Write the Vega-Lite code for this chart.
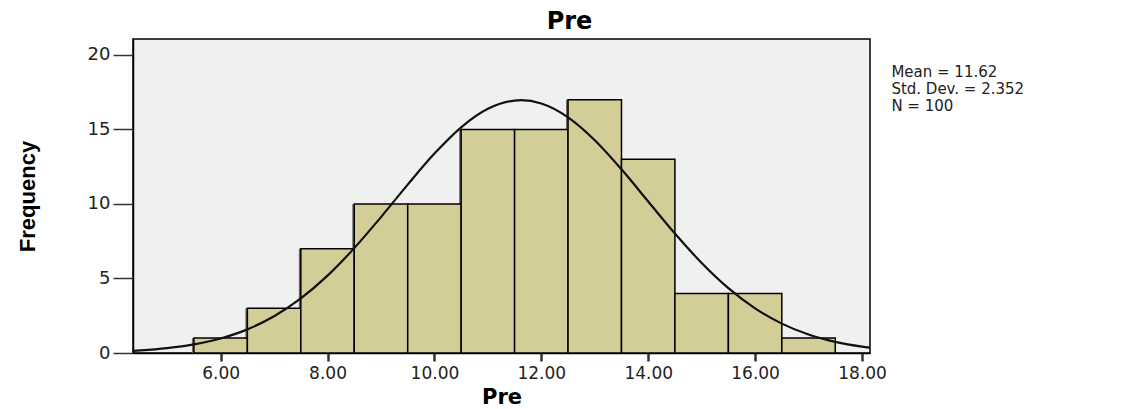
{
  "$schema": "https://vega.github.io/schema/vega-lite/v6.json",
  "autosize": {"type": "none"},
  "width": 737,
  "height": 314,
  "padding": {"left": 133, "top": 39, "right": 260, "bottom": 56},
  "background": "white",
  "config": {
    "view": {"fill": "#f0f0f0", "stroke": "#000000", "strokeWidth": 1.5},
    "font": "DejaVu Sans"
  },
  "title": {
    "text": "Pre",
    "font": "DejaVu Sans",
    "fontSize": 24,
    "fontWeight": "bold",
    "color": "#000000",
    "anchor": "middle",
    "frame": "group",
    "dx": 68,
    "dy": 24,
    "baseline": "alphabetic",
    "offset": 10
  },
  "datasets": {
    "bars": [
      {"bin_start": 5.5, "bin_end": 6.5, "count": 1, "base": 0},
      {"bin_start": 6.5, "bin_end": 7.5, "count": 3, "base": 0},
      {"bin_start": 7.5, "bin_end": 8.5, "count": 7, "base": 0},
      {"bin_start": 8.5, "bin_end": 9.5, "count": 10, "base": 0},
      {"bin_start": 9.5, "bin_end": 10.5, "count": 10, "base": 0},
      {"bin_start": 10.5, "bin_end": 11.5, "count": 15, "base": 0},
      {"bin_start": 11.5, "bin_end": 12.5, "count": 15, "base": 0},
      {"bin_start": 12.5, "bin_end": 13.5, "count": 17, "base": 0},
      {"bin_start": 13.5, "bin_end": 14.5, "count": 13, "base": 0},
      {"bin_start": 14.5, "bin_end": 15.5, "count": 4, "base": 0},
      {"bin_start": 15.5, "bin_end": 16.5, "count": 4, "base": 0},
      {"bin_start": 16.5, "bin_end": 17.5, "count": 1, "base": 0}
    ],
    "curve": [
      {"x": 4.36, "y": 0.145},
      {"x": 4.5, "y": 0.174},
      {"x": 5.0, "y": 0.323},
      {"x": 5.5, "y": 0.575},
      {"x": 6.0, "y": 0.977},
      {"x": 6.5, "y": 1.586},
      {"x": 7.0, "y": 2.464},
      {"x": 7.5, "y": 3.658},
      {"x": 8.0, "y": 5.189},
      {"x": 8.5, "y": 7.037},
      {"x": 9.0, "y": 9.12},
      {"x": 9.5, "y": 11.299},
      {"x": 10.0, "y": 13.38},
      {"x": 10.5, "y": 15.144},
      {"x": 11.0, "y": 16.383},
      {"x": 11.5, "y": 16.94},
      {"x": 11.62, "y": 16.962},
      {"x": 12.0, "y": 16.742},
      {"x": 12.5, "y": 15.815},
      {"x": 13.0, "y": 14.28},
      {"x": 13.5, "y": 12.324},
      {"x": 14.0, "y": 10.165},
      {"x": 14.5, "y": 8.015},
      {"x": 15.0, "y": 6.04},
      {"x": 15.5, "y": 4.351},
      {"x": 16.0, "y": 2.995},
      {"x": 16.5, "y": 1.971},
      {"x": 17.0, "y": 1.24},
      {"x": 17.5, "y": 0.745},
      {"x": 18.0, "y": 0.428},
      {"x": 18.15, "y": 0.359}
    ],
    "stats": [
      {"label": "Mean = 11.62\nStd. Dev. = 2.352\nN = 100", "sx": 18.55, "sy": 19.3}
    ]
  },
  "layer": [
    {
      "data": {"name": "bars"},
      "mark": {"type": "rule", "stroke": "#6f6c58", "strokeWidth": 4},
      "encoding": {
        "x": {"field": "bin_start", "type": "quantitative", "scale": {"domain": [4.36, 18.15], "nice": false, "zero": false}},
        "y": {"field": "count", "type": "quantitative"},
        "y2": {"field": "base"}
      }
    },
    {
      "data": {"name": "bars"},
      "mark": {"type": "rect", "fill": "#d3ce97", "stroke": "#000000", "strokeWidth": 1.5},
      "encoding": {
        "x": {
          "field": "bin_start",
          "type": "quantitative",
          "scale": {"domain": [4.36, 18.15], "nice": false, "zero": false},
          "axis": {
            "values": [6, 8, 10, 12, 14, 16, 18],
            "format": ".2f",
            "title": "Pre",
            "titleFont": "DejaVu Sans",
            "titleFontSize": 21,
            "titleFontWeight": "bold",
            "titleColor": "#000000",
            "titlePadding": 5,
            "labelFont": "DejaVu Sans",
            "labelFontSize": 17,
            "labelColor": "#222222",
            "labelPadding": 4,
            "tickSize": 8,
            "tickWidth": 2.5,
            "tickColor": "#333333",
            "domainColor": "#000000",
            "domainWidth": 1.5,
            "grid": false
          }
        },
        "x2": {"field": "bin_end"},
        "y": {
          "field": "count",
          "type": "quantitative",
          "scale": {"domain": [0, 21.07], "nice": false},
          "axis": {
            "values": [0, 5, 10, 15, 20],
            "title": "Frequency",
            "titleFont": "Liberation Sans",
            "titleFontSize": 22,
            "titleFontWeight": "bold",
            "titleColor": "#000000",
            "titlePadding": 48,
            "labelFont": "DejaVu Sans",
            "labelFontSize": 18,
            "labelColor": "#222222",
            "labelPadding": 3,
            "tickSize": 20,
            "tickWidth": 1.5,
            "tickColor": "#333333",
            "domainColor": "#000000",
            "domainWidth": 1.5,
            "grid": false
          }
        },
        "y2": {"field": "base"}
      }
    },
    {
      "data": {"name": "curve"},
      "mark": {"type": "line", "stroke": "#111111", "strokeWidth": 2.2, "interpolate": "monotone"},
      "encoding": {
        "x": {"field": "x", "type": "quantitative"},
        "y": {"field": "y", "type": "quantitative"}
      }
    },
    {
      "data": {"name": "stats"},
      "mark": {"type": "text", "align": "left", "baseline": "top", "lineBreak": "\n", "lineHeight": 17, "font": "DejaVu Sans", "fontSize": 15, "color": "#222222"},
      "encoding": {
        "x": {"field": "sx", "type": "quantitative"},
        "y": {"field": "sy", "type": "quantitative"},
        "text": {"field": "label", "type": "nominal"}
      }
    }
  ]
}
